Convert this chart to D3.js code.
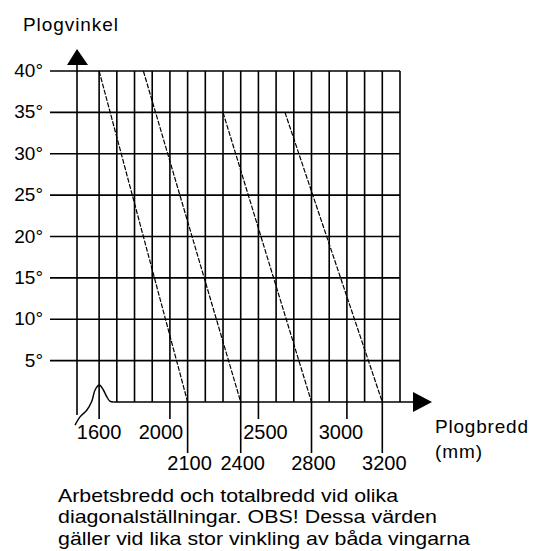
<!DOCTYPE html>
<html>
<head>
<meta charset="utf-8">
<script src="https://cdn.jsdelivr.net/npm/d3@7"></script>
<style>
  html, body { margin: 0; padding: 0; background: #fff; }
  svg { display: block; }
  text { font-family: "Liberation Sans", Arial, sans-serif; fill: #000; }
</style>
</head>
<body>
<script>
// ---- data ----
const angleTicks = [5, 10, 15, 20, 25, 30, 35, 40];
const angleLabels = ["5°", "10°", "15°", "20°", "25°", "30°", "35°", "40°"];
const gridWidths = [1600, 1700, 1800, 1900, 2000, 2100, 2200, 2300, 2400, 2500, 2600, 2700, 2800, 2900, 3000, 3100, 3200, 3300];
const workLabels = [1600, 2000, 2500, 3000];          // upper label row
const totalWidths = [2100, 2400, 2800, 3200];         // plow width at 0°
const topWidths = [1600, 1850, 2300, 2650];           // width at start angle
const startAngles = [40, 40, 35, 35];                 // start angle of each line
const bumpPoints = [[1464, -2.8], [1492, -1.8], [1530, -1.0], [1558, 0.05], [1577, 1.45], [1601, 2.05], [1624, 1.45], [1643, 0.64], [1661, 0.1], [1680, 0]];
const yTitle = "Plogvinkel";
const xTitle = ["Plogbredd", "(mm)"];
const caption = [
  "Arbetsbredd och totalbredd vid olika",
  "diagonalställningar. OBS! Dessa värden",
  "gäller vid lika stor vinkling av båda vingarna"
];

// ---- layout ----
const W = 534, H = 551;
const svg = d3.select("body").append("svg").attr("width", W).attr("height", H);

const x = d3.scaleLinear().domain([1475, 3300]).range([77, 400]);
const y = d3.scaleLinear().domain([0, 40]).range([402, 71]);

const g = svg.append("g").attr("stroke", "#000").attr("fill", "none");

// horizontal grid lines with tick extensions to the left
g.selectAll("line.h").data(angleTicks).join("line")
  .attr("class", "h")
  .attr("x1", 50).attr("x2", x(3300))
  .attr("y1", d => y(d)).attr("y2", d => y(d))
  .attr("stroke-width", 1.6);

// vertical grid lines
const longTick = new Set(totalWidths);
const midTick = new Set(workLabels);
g.selectAll("line.v").data(gridWidths).join("line")
  .attr("class", "v")
  .attr("x1", d => x(d)).attr("x2", d => x(d))
  .attr("y1", y(40))
  .attr("y2", d => longTick.has(d) ? 453 : midTick.has(d) ? 419 : y(0))
  .attr("stroke-width", 1.6);

// y-axis
g.append("line")
  .attr("x1", x(1475)).attr("x2", x(1475))
  .attr("y1", 60).attr("y2", 415)
  .attr("stroke-width", 1.6);
svg.append("path")
  .attr("d", `M${x(1475) - 10},65 L${x(1475)},49 L${x(1475) + 11},65 Z`)
  .attr("fill", "#000");

// x-axis baseline
g.append("line")
  .attr("x1", x(1680)).attr("x2", 416)
  .attr("y1", y(0)).attr("y2", y(0))
  .attr("stroke-width", 1.6);
svg.append("path")
  .attr("d", `M413,${y(0) - 10} L432,${y(0)} L413,${y(0) + 10} Z`)
  .attr("fill", "#000");

// bump near 1600
g.append("path")
  .datum(bumpPoints)
  .attr("d", d3.line().x(d => x(d[0])).y(d => y(d[1])).curve(d3.curveCatmullRom))
  .attr("stroke-width", 1.4);

// diagonal lines
g.selectAll("line.diag").data(totalWidths).join("line")
  .attr("class", "diag")
  .attr("x1", (d, i) => x(topWidths[i])).attr("y1", (d, i) => y(startAngles[i]))
  .attr("x2", d => x(d)).attr("y2", y(0))
  .attr("stroke-width", 1.2)
  .attr("stroke-dasharray", "5,1.5");

// y labels
svg.selectAll("text.yl").data(angleTicks).join("text")
  .attr("class", "yl")
  .attr("x", 43).attr("y", d => y(d) + 6)
  .attr("text-anchor", "end")
  .attr("font-size", 19)
  .text((d, i) => angleLabels[i]);

// upper x labels
const upperOffset = { 1600: 0, 2000: -9, 2500: 7, 3000: -6 };
svg.selectAll("text.xl1").data(workLabels).join("text")
  .attr("class", "xl1")
  .attr("x", d => x(d) + upperOffset[d]).attr("y", 439)
  .attr("text-anchor", "middle")
  .attr("font-size", 20)
  .text(d => d);

// lower x labels
svg.selectAll("text.xl2").data(totalWidths).join("text")
  .attr("class", "xl2")
  .attr("x", d => x(d) + 2).attr("y", 470)
  .attr("text-anchor", "middle")
  .attr("font-size", 20)
  .text(d => d);

// titles
svg.append("text").attr("x", 23).attr("y", 31).attr("font-size", 19)
  .attr("textLength", 95).attr("lengthAdjust", "spacing").text(yTitle);
svg.append("text").attr("x", 435).attr("y", 433).attr("font-size", 19)
  .attr("textLength", 93).attr("lengthAdjust", "spacing").text(xTitle[0]);
svg.append("text").attr("x", 435).attr("y", 458).attr("font-size", 19)
  .attr("textLength", 47).attr("lengthAdjust", "spacing").text(xTitle[1]);

// caption
const capLen = [340, 379, 412];
const capY = [502, 523, 545];
svg.selectAll("text.cap").data(caption).join("text")
  .attr("class", "cap")
  .attr("x", 58).attr("y", (d, i) => capY[i])
  .attr("font-size", 19)
  .attr("textLength", (d, i) => capLen[i]).attr("lengthAdjust", "spacingAndGlyphs")
  .text(d => d);
</script>
</body>
</html>
